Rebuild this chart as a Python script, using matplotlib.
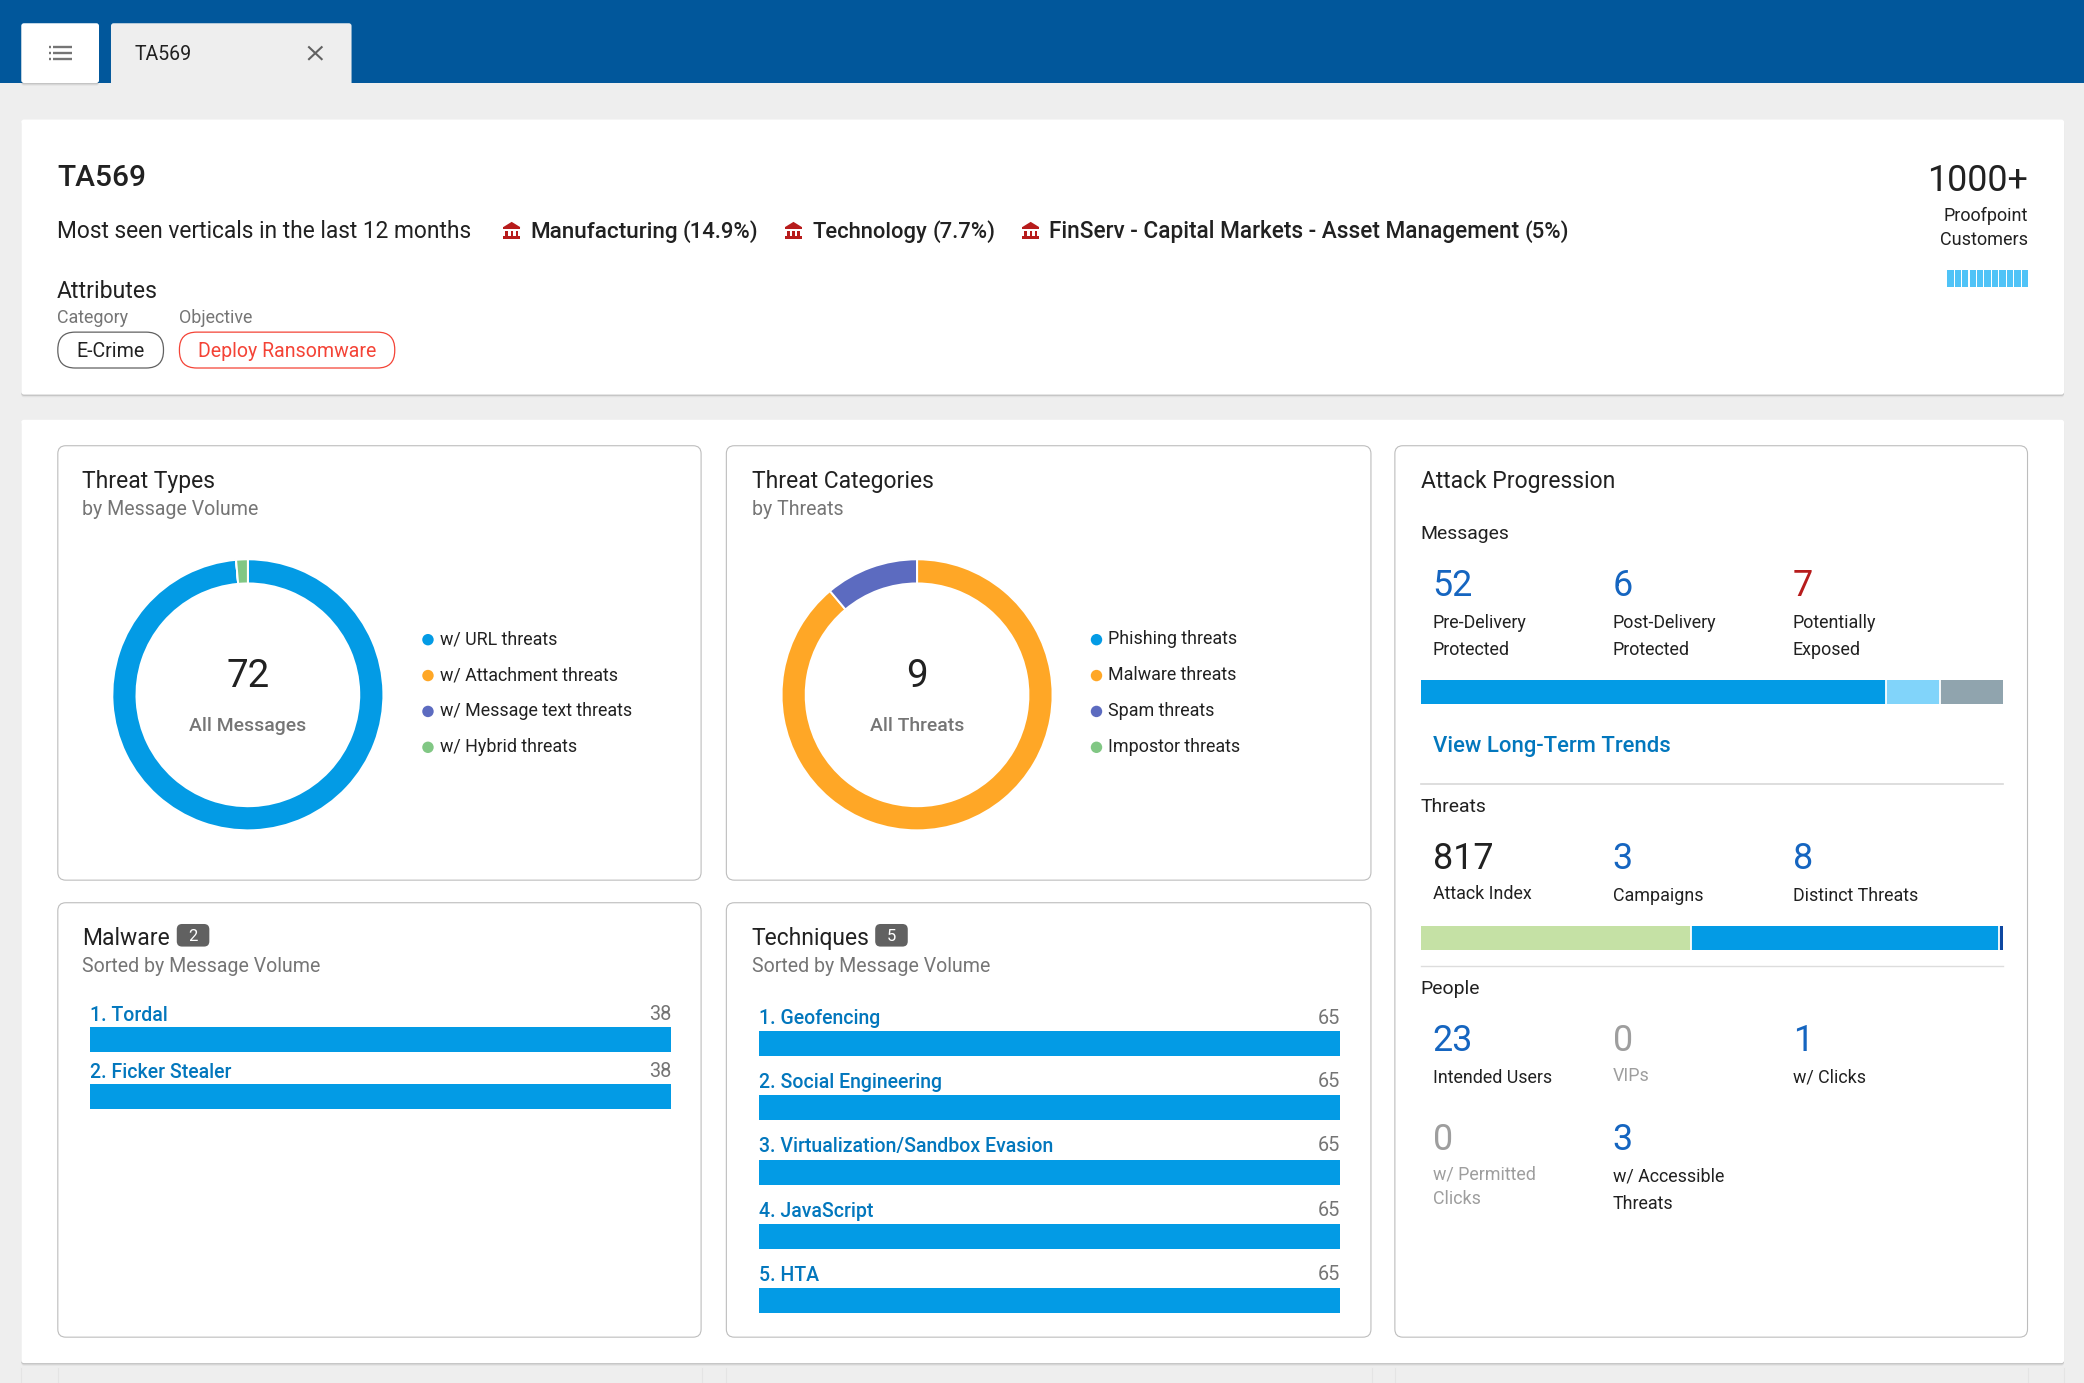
import matplotlib
matplotlib.use("Agg")
import matplotlib.pyplot as plt
from matplotlib.patches import FancyBboxPatch, Rectangle, Circle

plt.rcParams['font.family'] = ['Roboto', 'DejaVu Sans']

W, H = 2084, 1383
DW, DH = 1568.0, 1041.0   # layout units

# ---------- data ----------
threat_type_labels = ['w/ URL threats', 'w/ Attachment threats', 'w/ Message text threats', 'w/ Hybrid threats']
threat_type_values = [71, 0, 0, 1]
threat_cat_labels = ['Phishing threats', 'Malware threats', 'Spam threats', 'Impostor threats']
threat_cat_values = [0, 8, 1, 0]
malware_names = ['1. Tordal', '2. Ficker Stealer']
malware_values = [38, 38]
technique_names = ['1. Geofencing', '2. Social Engineering', '3. Virtualization/Sandbox Evasion', '4. JavaScript', '5. HTA']
technique_values = [65, 65, 65, 65, 65]
message_segments = [52, 6, 7]
threat_segments = [46.4, 52.9, 0.7]
verticals = [('Manufacturing', '(14.9%)'), ('Technology', '(7.7%)'),
             ('FinServ - Capital Markets - Asset Management', '(5%)')]
gauge_cells = [1] * 11

# ---------- colours ----------
NAVY = '#01579B'; BG = '#EEEEEE'; INK = '#212121'; GREY = '#757575'; FAINT = '#9E9E9E'
BLUE = '#039BE5'; ORANGE = '#FFA726'; PURPLE = '#5C6BC0'; GREEN = '#81C784'
NUM = '#1565C0'; DRED = '#B71C1C'; LINK = '#0277BD'; LINE = '#BDBDBD'
donut_colors = [BLUE, ORANGE, PURPLE, GREEN]

fig = plt.figure(figsize=(W / 100, H / 100), dpi=100, facecolor=BG)
ax = fig.add_axes([0, 0, 1, 1])
ax.set_xlim(0, DW); ax.set_ylim(DH, 0); ax.axis('off')


def pt(d):
    return d * 0.957


def T(x, y, s, size=13.5, color=INK, weight='normal', ha='left'):
    ax.text(x, y, s, fontsize=pt(size), color=color, fontweight=weight, ha=ha, va='baseline', zorder=5)


def card(x0, y0, x1, y1, r=2, fc='white', ec='none', lw=0, z=1, shadow=False):
    if shadow:
        for off, a in ((2.0, 0.05), (1.0, 0.13)):
            ax.add_patch(FancyBboxPatch((x0, y0 + off), x1 - x0, y1 - y0,
                                        boxstyle=f'round,pad=0,rounding_size={r}',
                                        fc='black', ec='none', alpha=a, zorder=z))
    ax.add_patch(FancyBboxPatch((x0, y0), x1 - x0, y1 - y0, boxstyle=f'round,pad=0,rounding_size={r}',
                                fc=fc, ec=ec, lw=lw, zorder=z + 0.1))


def sub_axes(x0, y0, x1, y1):
    a = fig.add_axes([x0 / DW, 1 - y1 / DH, (x1 - x0) / DW, (y1 - y0) / DH])
    a.axis('off')
    a.patch.set_alpha(0)
    return a


def bank(x, y):
    c = DRED
    ax.fill([x, x + 6.5, x + 13], [y + 4, y, y + 4], color=c, lw=0, zorder=5)
    ax.add_patch(Rectangle((x, y + 4), 13, 1.6, fc=c, ec='none', zorder=5))
    for dx in (1.8, 5.6, 9.4):
        ax.add_patch(Rectangle((x + dx, y + 6.5), 1.8, 4, fc=c, ec='none', zorder=5))
    ax.add_patch(Rectangle((x, y + 10.8), 13, 1.8, fc=c, ec='none', zorder=5))


# ---------- header ----------
ax.add_patch(Rectangle((0, 0), DW, 62.5, fc=NAVY, ec='none', zorder=0.5))
card(16, 17.5, 74.5, 62.5, fc='white', z=1, shadow=True)
card(83.5, 17.5, 264.5, 70, fc=BG, z=1)
ax.add_patch(Rectangle((83.5, 62.5), 181, 8, fc=BG, ec='none', zorder=1.2))
for yy in (35.5, 40, 44.5):
    ax.plot([40, 54], [yy, yy], color='#757575', lw=1.7, zorder=5, solid_capstyle='butt')
    ax.plot([37, 38.6], [yy, yy], color='#757575', lw=1.7, zorder=5, solid_capstyle='butt')
T(101.5, 45, 'TA569', 14.7)
ax.plot([232.5, 242], [35.5, 44.5], color='#616161', lw=1.5, zorder=5)
ax.plot([232.5, 242], [44.5, 35.5], color='#616161', lw=1.5, zorder=5)

# ---------- summary card ----------
card(16, 90, 1553, 297, shadow=True)
T(43, 140, 'TA569', 22.5, weight='medium')
T(43, 179.5, 'Most seen verticals in the last 12 months', 17.15)
for (name, pct), ix, nx, px, fs in zip(verticals, (378.5, 590.5, 769), (399, 611, 789.5),
                                       (513.5, 701.5, 1147), (16.9, 16.6, 17.0)):
    bank(ix, 167)
    T(nx, 179, name, fs, weight='medium')
    T(px, 179, pct, 16.7, weight='medium')
T(43, 224.5, 'Attributes', 17.3)
T(43, 243.5, 'Category', 13.5, GREY)
T(135, 243.5, 'Objective', 13.5, GREY)
card(43.5, 250, 123, 277, r=13, fc='white', ec='#616161', lw=0.9, z=2)
T(83, 269, 'E-Crime', 14.8, ha='center')
card(135, 250, 297, 277, r=13, fc='white', ec='#F44336', lw=0.9, z=2)
T(216, 269, 'Deploy Ransomware', 14.7, '#F44336', ha='center')
T(1526, 144, '1000+', 27, ha='right')
T(1526, 166.5, 'Proofpoint', 13.6, ha='right')
T(1526, 184.5, 'Customers', 13.6, ha='right')
g = sub_axes(1465, 203, 1526, 216)
g.bar(range(len(gauge_cells)), gauge_cells, width=0.86, color='#4FC3F7')
g.set_xlim(-0.43, len(gauge_cells) - 0.57); g.set_ylim(0, 1); g.axis('off')

# ---------- main card ----------
card(16, 316, 1553, 1026, shadow=True)
for x in (16, 43.5, 528, 546.5, 1032, 1049.5, 1526, 1553):
    ax.plot([x, x], [1030, 1041], color='#E4E4E4', lw=0.8, zorder=0.6)
for x0, y0, x1, y1 in [(43.5, 335.5, 527.5, 662.5), (546.5, 335.5, 1031.5, 662.5),
                       (1049.5, 335.5, 1525.5, 1006.5), (43.5, 679.5, 527.5, 1006.5),
                       (546.5, 679.5, 1031.5, 1006.5)]:
    card(x0, y0, x1, y1, r=6, fc='white', ec=LINE, lw=0.8, z=2)


def donut(cx, cy, values, labels, total, caption, title, sub, tx, lx):
    T(tx, 367, title, 17.2)
    T(tx, 388, sub, 14.7, GREY)
    R = 102
    a = sub_axes(cx - R, cy - R, cx + R, cy + R)
    a.pie(values, colors=donut_colors, startangle=90, counterclock=False, radius=1.0,
          wedgeprops=dict(width=0.178, edgecolor='white', linewidth=1.4))
    a.set_xlim(-1, 1); a.set_ylim(-1, 1)
    T(cx, 517, str(total), 29, ha='center')
    T(cx, 550, caption, 14.6, GREY, weight='medium', ha='center')
    for i, (lab, col) in enumerate(zip(labels, donut_colors)):
        y = 481.5 + 27 * i
        ax.add_patch(Circle((lx, y), 4.3, fc=col, ec='none', zorder=5))
        T(lx + 9, y + 3.5, lab, 13.5)


donut(186.5, 523, threat_type_values, threat_type_labels, sum(threat_type_values), 'All Messages',
      'Threat Types', 'by Message Volume', 62, 322)
donut(690, 523, threat_cat_values, threat_cat_labels, sum(threat_cat_values), 'All Threats',
      'Threat Categories', 'by Threats', 565.5, 825)


def ranked(x0, x1, names, values, title, sub, tx, badge_x, label_bases, val_bases, first_c, pitch, bar_h):
    T(tx, 711, title, 17.2)
    card(badge_x[0], 695.5, badge_x[1], 712.5, r=4, fc='#616161', z=3)
    T((badge_x[0] + badge_x[1]) / 2, 708.5, str(len(values)), 12.5, 'white', ha='center')
    T(tx, 732, sub, 14.7, GREY)
    n = len(values)
    frac = bar_h / pitch
    a = sub_axes(x0, first_c - bar_h / 2, x1, first_c + pitch * (n - 1) + bar_h / 2)
    a.barh(range(n), values, height=frac, color=BLUE)
    a.set_xlim(0, max(values)); a.set_ylim(n - 1 + frac / 2, -frac / 2); a.axis('off')
    for nm, v, lb, vb in zip(names, values, label_bases, val_bases):
        T(x0, lb, nm, 14.7, LINK, weight='medium')
        T(x1, vb, str(v), 15, GREY, ha='right')


ranked(68, 505, malware_names, malware_values, 'Malware', 'Sorted by Message Volume', 62, (133, 157.5),
       [768.5, 811.5], [767.5, 810.5], 782.5, 43, 19)
ranked(571, 1008, technique_names, technique_values, 'Techniques', 'Sorted by Message Volume', 565.5, (658.5, 683),
       [771, 819, 867, 916, 964], [770.5, 818.5, 866.5, 915, 963.5], 785.5, 48.4, 19)

# ---------- attack progression ----------
T(1069, 367, 'Attack Progression', 17.2)


def seg_bar(y0, y1, segs, colors):
    a = sub_axes(1069, y0, 1507, y1)
    left = 0
    for v, c in zip(segs, colors):
        a.barh(0, v, left=left, height=1, color=c)
        if left > 0:
            a.axvline(left, color='white', lw=1.3)
        left += v
    a.set_xlim(0, left); a.set_ylim(-0.5, 0.5); a.axis('off')


C1, C2, C3 = 1078, 1213.5, 1349
T(1069, 406, 'Messages', 14.6)
T(C1, 448.5, str(message_segments[0]), 27, NUM)
T(C2, 448.5, str(message_segments[1]), 27, NUM)
T(C3, 448.5, str(message_segments[2]), 27, DRED)
for x, l1, l2 in [(C1, 'Pre-Delivery', 'Protected'), (C2, 'Post-Delivery', 'Protected'), (C3, 'Potentially', 'Exposed')]:
    T(x, 473, l1, 13.5)
    T(x, 493, l2, 13.5)
seg_bar(512, 530, message_segments, [BLUE, '#81D4FA', '#90A4AE'])
T(1078, 566, 'View Long-Term Trends', 16.67, LINK, weight='medium')
ax.plot([1069, 1507], [590, 590], color='#D8D8D8', lw=1.2, zorder=5)
T(1069, 611, 'Threats', 14.6)
T(C1, 654, '817', 27)
T(C2, 654, '3', 27, NUM)
T(C3, 654, '8', 27, NUM)
T(C1, 677, 'Attack Index', 13.5)
T(C2, 678, 'Campaigns', 13.5)
T(C3, 678, 'Distinct Threats', 13.5)
seg_bar(697, 715, threat_segments, ['#C5E1A5', BLUE, '#0D47A1'])
ax.plot([1069, 1507], [727, 727], color='#DDDDDD', lw=1.0, zorder=5)
T(1069, 748, 'People', 14.6)
T(C1, 791, '23', 27, NUM)
T(C2, 791, '0', 27, FAINT)
T(C3, 791, '1', 27, NUM)
T(C1, 815, 'Intended Users', 13.5)
T(C2, 814, 'VIPs', 13.5, FAINT)
T(C3, 815, 'w/ Clicks', 13.5)
T(C1, 865.5, '0', 27, FAINT)
T(C2, 865.5, '3', 27, NUM)
T(C1, 888, 'w/ Permitted', 13.5, FAINT)
T(C1, 906, 'Clicks', 13.5, FAINT)
T(C2, 889.5, 'w/ Accessible', 13.5)
T(C2, 910, 'Threats', 13.5)

fig.savefig('out.png', dpi=100, facecolor=BG)
